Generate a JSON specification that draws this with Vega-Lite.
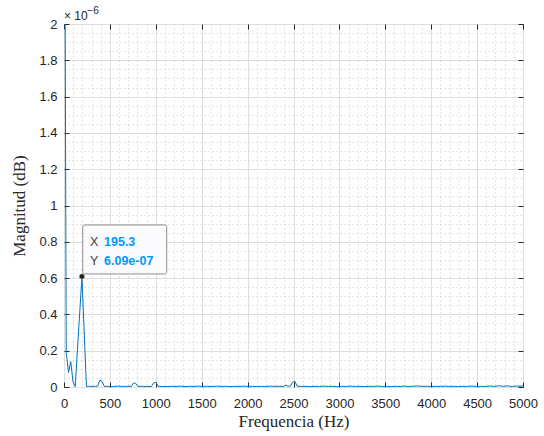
{
  "$schema": "https://vega.github.io/schema/vega-lite/v6.json",
  "width": 459,
  "height": 363,
  "autosize": {"type": "none"},
  "padding": {"left": 64, "top": 24, "right": 21, "bottom": 49},
  "background": "white",
  "config": {
    "view": {"stroke": "#262626", "strokeWidth": 1},
    "font": "Liberation Sans"
  },
  "datasets": {
    "spectrum": [
      {"f": 0, "mag": 4e-6}, {"f": 24.4, "mag": 1.9e-7}, {"f": 48.8, "mag": 8e-8}, {"f": 73.2, "mag": 1.4e-7},
      {"f": 97.7, "mag": 3e-8}, {"f": 122.1, "mag": 2e-9}, {"f": 195.3, "mag": 6.09e-7}, {"f": 244.1, "mag": 3e-9},
      {"f": 268.6, "mag": 5e-9}, {"f": 293, "mag": 2e-9}, {"f": 317.4, "mag": 4e-9}, {"f": 341.8, "mag": 3e-9},
      {"f": 366.2, "mag": 5e-9}, {"f": 390.6, "mag": 3.8e-8}, {"f": 415, "mag": 3e-8}, {"f": 439.5, "mag": 3e-9},
      {"f": 488.3, "mag": 4e-9}, {"f": 537.1, "mag": 2e-9}, {"f": 585.9, "mag": 5e-9}, {"f": 634.8, "mag": 3e-9},
      {"f": 683.6, "mag": 4e-9}, {"f": 732.4, "mag": 3e-9}, {"f": 757, "mag": 2.2e-8}, {"f": 781.3, "mag": 2e-8},
      {"f": 805.7, "mag": 3e-9}, {"f": 854.5, "mag": 4e-9}, {"f": 903.3, "mag": 2e-9}, {"f": 952.1, "mag": 3e-9},
      {"f": 976.6, "mag": 2.2e-8}, {"f": 1001, "mag": 2.6e-8}, {"f": 1025.4, "mag": 4e-9}, {"f": 1074.2, "mag": 3e-9},
      {"f": 1123, "mag": 2e-9}, {"f": 1171.9, "mag": 4e-9}, {"f": 1220.7, "mag": 3e-9}, {"f": 1269.5, "mag": 5e-9},
      {"f": 1318.4, "mag": 2e-9}, {"f": 1367.2, "mag": 4e-9}, {"f": 1416, "mag": 3e-9}, {"f": 1464.8, "mag": 5e-9},
      {"f": 1513.7, "mag": 3e-9}, {"f": 1562.5, "mag": 4e-9}, {"f": 1611.3, "mag": 2e-9}, {"f": 1660.2, "mag": 5e-9},
      {"f": 1709, "mag": 3e-9}, {"f": 1757.8, "mag": 4e-9}, {"f": 1806.6, "mag": 2e-9}, {"f": 1855.5, "mag": 4e-9},
      {"f": 1904.3, "mag": 3e-9}, {"f": 1953.1, "mag": 5e-9}, {"f": 2002, "mag": 3e-9}, {"f": 2050.8, "mag": 4e-9},
      {"f": 2099.6, "mag": 2e-9}, {"f": 2148.4, "mag": 4e-9}, {"f": 2197.3, "mag": 3e-9}, {"f": 2246.1, "mag": 5e-9},
      {"f": 2294.9, "mag": 3e-9}, {"f": 2343.8, "mag": 4e-9}, {"f": 2392.6, "mag": 3e-9}, {"f": 2417, "mag": 1.1e-8},
      {"f": 2441.4, "mag": 4e-9}, {"f": 2465.8, "mag": 6e-9}, {"f": 2490.2, "mag": 2.6e-8}, {"f": 2514.6, "mag": 3.2e-8},
      {"f": 2539.1, "mag": 5e-9}, {"f": 2587.9, "mag": 3e-9}, {"f": 2636.7, "mag": 4e-9}, {"f": 2685.5, "mag": 2e-9},
      {"f": 2734.4, "mag": 4e-9}, {"f": 2783.2, "mag": 3e-9}, {"f": 2832, "mag": 5e-9}, {"f": 2880.9, "mag": 3e-9},
      {"f": 2929.7, "mag": 4e-9}, {"f": 2978.5, "mag": 2e-9}, {"f": 3027.3, "mag": 4e-9}, {"f": 3076.2, "mag": 3e-9},
      {"f": 3125, "mag": 5e-9}, {"f": 3173.8, "mag": 3e-9}, {"f": 3222.7, "mag": 4e-9}, {"f": 3271.5, "mag": 2e-9},
      {"f": 3320.3, "mag": 4e-9}, {"f": 3369.1, "mag": 3e-9}, {"f": 3418, "mag": 5e-9}, {"f": 3466.8, "mag": 3e-9},
      {"f": 3515.6, "mag": 4e-9}, {"f": 3564.5, "mag": 2e-9}, {"f": 3613.3, "mag": 4e-9}, {"f": 3662.1, "mag": 3e-9},
      {"f": 3710.9, "mag": 5e-9}, {"f": 3759.8, "mag": 3e-9}, {"f": 3808.6, "mag": 4e-9}, {"f": 3857.4, "mag": 6e-9},
      {"f": 3906.3, "mag": 3e-9}, {"f": 3955.1, "mag": 4e-9}, {"f": 4003.9, "mag": 2e-9}, {"f": 4052.7, "mag": 4e-9},
      {"f": 4101.6, "mag": 3e-9}, {"f": 4150.4, "mag": 5e-9}, {"f": 4199.2, "mag": 3e-9}, {"f": 4248, "mag": 4e-9},
      {"f": 4296.9, "mag": 2e-9}, {"f": 4345.7, "mag": 4e-9}, {"f": 4394.5, "mag": 3e-9}, {"f": 4443.4, "mag": 5e-9},
      {"f": 4492.2, "mag": 3e-9}, {"f": 4541, "mag": 4e-9}, {"f": 4589.8, "mag": 2e-9}, {"f": 4638.7, "mag": 6e-9},
      {"f": 4687.5, "mag": 3e-9}, {"f": 4736.3, "mag": 7e-9}, {"f": 4785.2, "mag": 4e-9}, {"f": 4834, "mag": 6e-9},
      {"f": 4882.8, "mag": 3e-9}, {"f": 4931.6, "mag": 5e-9}, {"f": 4980.5, "mag": 4e-9}, {"f": 5000, "mag": 8e-9}
    ],
    "tip": [{"f": 195.3, "mag": 6.09e-7}]
  },
  "resolve": {"axis": {"x": "independent", "y": "independent"}},
  "layer": [
    {
      "data": {"name": "spectrum"},
      "mark": {"type": "line", "clip": true, "color": "#0072BD", "strokeWidth": 1},
      "encoding": {
        "x": {
          "field": "f", "type": "quantitative",
          "scale": {"domain": [0, 5000], "nice": false, "zero": false},
          "axis": {
            "orient": "bottom",
            "values": [0,100,200,300,400,500,600,700,800,900,1000,1100,1200,1300,1400,1500,1600,1700,1800,1900,2000,2100,2200,2300,2400,2500,2600,2700,2800,2900,3000,3100,3200,3300,3400,3500,3600,3700,3800,3900,4000,4100,4200,4300,4400,4500,4600,4700,4800,4900,5000],
            "format": "d",
            "labelExpr": "datum.value % 500 === 0 ? datum.label : ''",
            "grid": true,
            "gridColor": {"condition": {"test": "datum.value % 500 === 0", "value": "#dedede"}, "value": "#d9d9d9"},
            "gridDash": {"condition": {"test": "datum.value % 500 === 0", "value": []}, "value": [1.5, 2.5]},
            "tickOpacity": {"condition": {"test": "datum.value % 500 === 0", "value": 1}, "value": 0},
            "tickSize": -5,
            "tickColor": "#262626",
            "domain": false,
            "labelFont": "Liberation Sans",
            "labelFontSize": 13,
            "labelColor": "#262626",
            "labelPadding": 15,
            "labelFlush": false,
            "labelOverlap": false,
            "title": "Frequencia (Hz)",
            "titleFont": "Liberation Serif",
            "titleFontSize": 17,
            "titleFontWeight": "normal",
            "titleColor": "#262626",
            "titlePadding": 3
          }
        },
        "y": {
          "field": "mag", "type": "quantitative",
          "scale": {"domain": [0, 2e-6], "nice": false, "zero": false},
          "axis": {
            "orient": "left",
            "values": [0,5e-8,1e-7,1.5e-7,2e-7,2.5e-7,3e-7,3.5e-7,4e-7,4.5e-7,5e-7,5.5e-7,6e-7,6.5e-7,7e-7,7.5e-7,8e-7,8.5e-7,9e-7,9.5e-7,1e-6,1.05e-6,1.1e-6,1.15e-6,1.2e-6,1.25e-6,1.3e-6,1.35e-6,1.4e-6,1.45e-6,1.5e-6,1.55e-6,1.6e-6,1.65e-6,1.7e-6,1.75e-6,1.8e-6,1.85e-6,1.9e-6,1.95e-6,2e-6],
            "labelExpr": "round(datum.value*1e8) % 20 === 0 ? format(datum.value*1e6, '.1~f') : ''",
            "grid": true,
            "gridColor": {"condition": {"test": "round(datum.value*1e8) % 20 === 0", "value": "#dedede"}, "value": "#d9d9d9"},
            "gridDash": {"condition": {"test": "round(datum.value*1e8) % 20 === 0", "value": []}, "value": [1.5, 2.5]},
            "tickOpacity": {"condition": {"test": "round(datum.value*1e8) % 20 === 0", "value": 1}, "value": 0},
            "tickSize": -5,
            "tickColor": "#262626",
            "domain": false,
            "labelFont": "Liberation Sans",
            "labelFontSize": 13,
            "labelColor": "#262626",
            "labelPadding": 12,
            "labelFlush": false,
            "labelOverlap": false,
            "title": "Magnitud (dB)",
            "titleFont": "Liberation Serif",
            "titleFontSize": 17,
            "titleFontWeight": "normal",
            "titleColor": "#262626",
            "titlePadding": 10
          }
        }
      }
    },
    {
      "data": {"name": "spectrum"},
      "mark": {"type": "point", "opacity": 0},
      "encoding": {
        "x": {
          "field": "f", "type": "quantitative",
          "scale": {"domain": [0, 5000], "nice": false, "zero": false},
          "axis": {"orient": "top", "values": [0,500,1000,1500,2000,2500,3000,3500,4000,4500,5000], "labels": false, "grid": false, "domain": false, "tickSize": -5, "tickColor": "#262626", "title": null}
        },
        "y": {
          "field": "mag", "type": "quantitative",
          "scale": {"domain": [0, 2e-6], "nice": false, "zero": false},
          "axis": {"orient": "right", "values": [0,2e-7,4e-7,6e-7,8e-7,1e-6,1.2e-6,1.4e-6,1.6e-6,1.8e-6,2e-6], "labels": false, "grid": false, "domain": false, "tickSize": -5, "tickColor": "#262626", "title": null}
        }
      }
    },
    {
      "data": {"name": "tip"},
      "mark": {"type": "text", "text": "× 10", "align": "left", "baseline": "alphabetic", "dy": -4, "fontSize": 12, "color": "#262626", "font": "Liberation Sans"},
      "encoding": {
        "x": {"datum": 0, "type": "quantitative", "axis": null},
        "y": {"datum": 2e-6, "type": "quantitative", "axis": null}
      }
    },
    {
      "data": {"name": "tip"},
      "mark": {"type": "text", "text": "−6", "align": "left", "baseline": "alphabetic", "dx": 23.3, "dy": -10, "fontSize": 10, "color": "#262626", "font": "Liberation Sans"},
      "encoding": {
        "x": {"datum": 0, "type": "quantitative", "axis": null},
        "y": {"datum": 2e-6, "type": "quantitative", "axis": null}
      }
    },
    {
      "data": {"name": "tip"},
      "mark": {"type": "rect", "fill": "#fbfbfe", "stroke": "#8c8c8c", "strokeWidth": 1, "cornerRadius": 2, "xOffset": 0.8, "x2Offset": 84.8, "yOffset": -51.5, "y2Offset": -2.5},
      "encoding": {
        "x": {"field": "f", "type": "quantitative", "axis": null},
        "x2": {"field": "f"},
        "y": {"field": "mag", "type": "quantitative", "axis": null},
        "y2": {"field": "mag"}
      }
    },
    {
      "data": {"name": "tip"},
      "mark": {"type": "point", "filled": true, "shape": "circle", "size": 30, "fill": "#1f1f1f", "stroke": "#d8d8b0", "strokeWidth": 0.6, "opacity": 1},
      "encoding": {
        "x": {"field": "f", "type": "quantitative", "axis": null},
        "y": {"field": "mag", "type": "quantitative", "axis": null}
      }
    },
    {
      "data": {"name": "tip"},
      "mark": {"type": "text", "text": "X", "align": "left", "baseline": "middle", "dx": 8.1, "dy": -34, "fontSize": 12.5, "color": "#404040", "font": "Liberation Sans"},
      "encoding": {
        "x": {"field": "f", "type": "quantitative", "axis": null},
        "y": {"field": "mag", "type": "quantitative", "axis": null}
      }
    },
    {
      "data": {"name": "tip"},
      "mark": {"type": "text", "text": "195.3", "align": "left", "baseline": "middle", "dx": 22.1, "dy": -34, "fontSize": 12.5, "fontWeight": "bold", "color": "#0099FF", "font": "Liberation Sans"},
      "encoding": {
        "x": {"field": "f", "type": "quantitative", "axis": null},
        "y": {"field": "mag", "type": "quantitative", "axis": null}
      }
    },
    {
      "data": {"name": "tip"},
      "mark": {"type": "text", "text": "Y", "align": "left", "baseline": "middle", "dx": 8.1, "dy": -15, "fontSize": 12.5, "color": "#404040", "font": "Liberation Sans"},
      "encoding": {
        "x": {"field": "f", "type": "quantitative", "axis": null},
        "y": {"field": "mag", "type": "quantitative", "axis": null}
      }
    },
    {
      "data": {"name": "tip"},
      "mark": {"type": "text", "text": "6.09e-07", "align": "left", "baseline": "middle", "dx": 22.1, "dy": -15, "fontSize": 12.5, "fontWeight": "bold", "color": "#0099FF", "font": "Liberation Sans"},
      "encoding": {
        "x": {"field": "f", "type": "quantitative", "axis": null},
        "y": {"field": "mag", "type": "quantitative", "axis": null}
      }
    }
  ]
}
